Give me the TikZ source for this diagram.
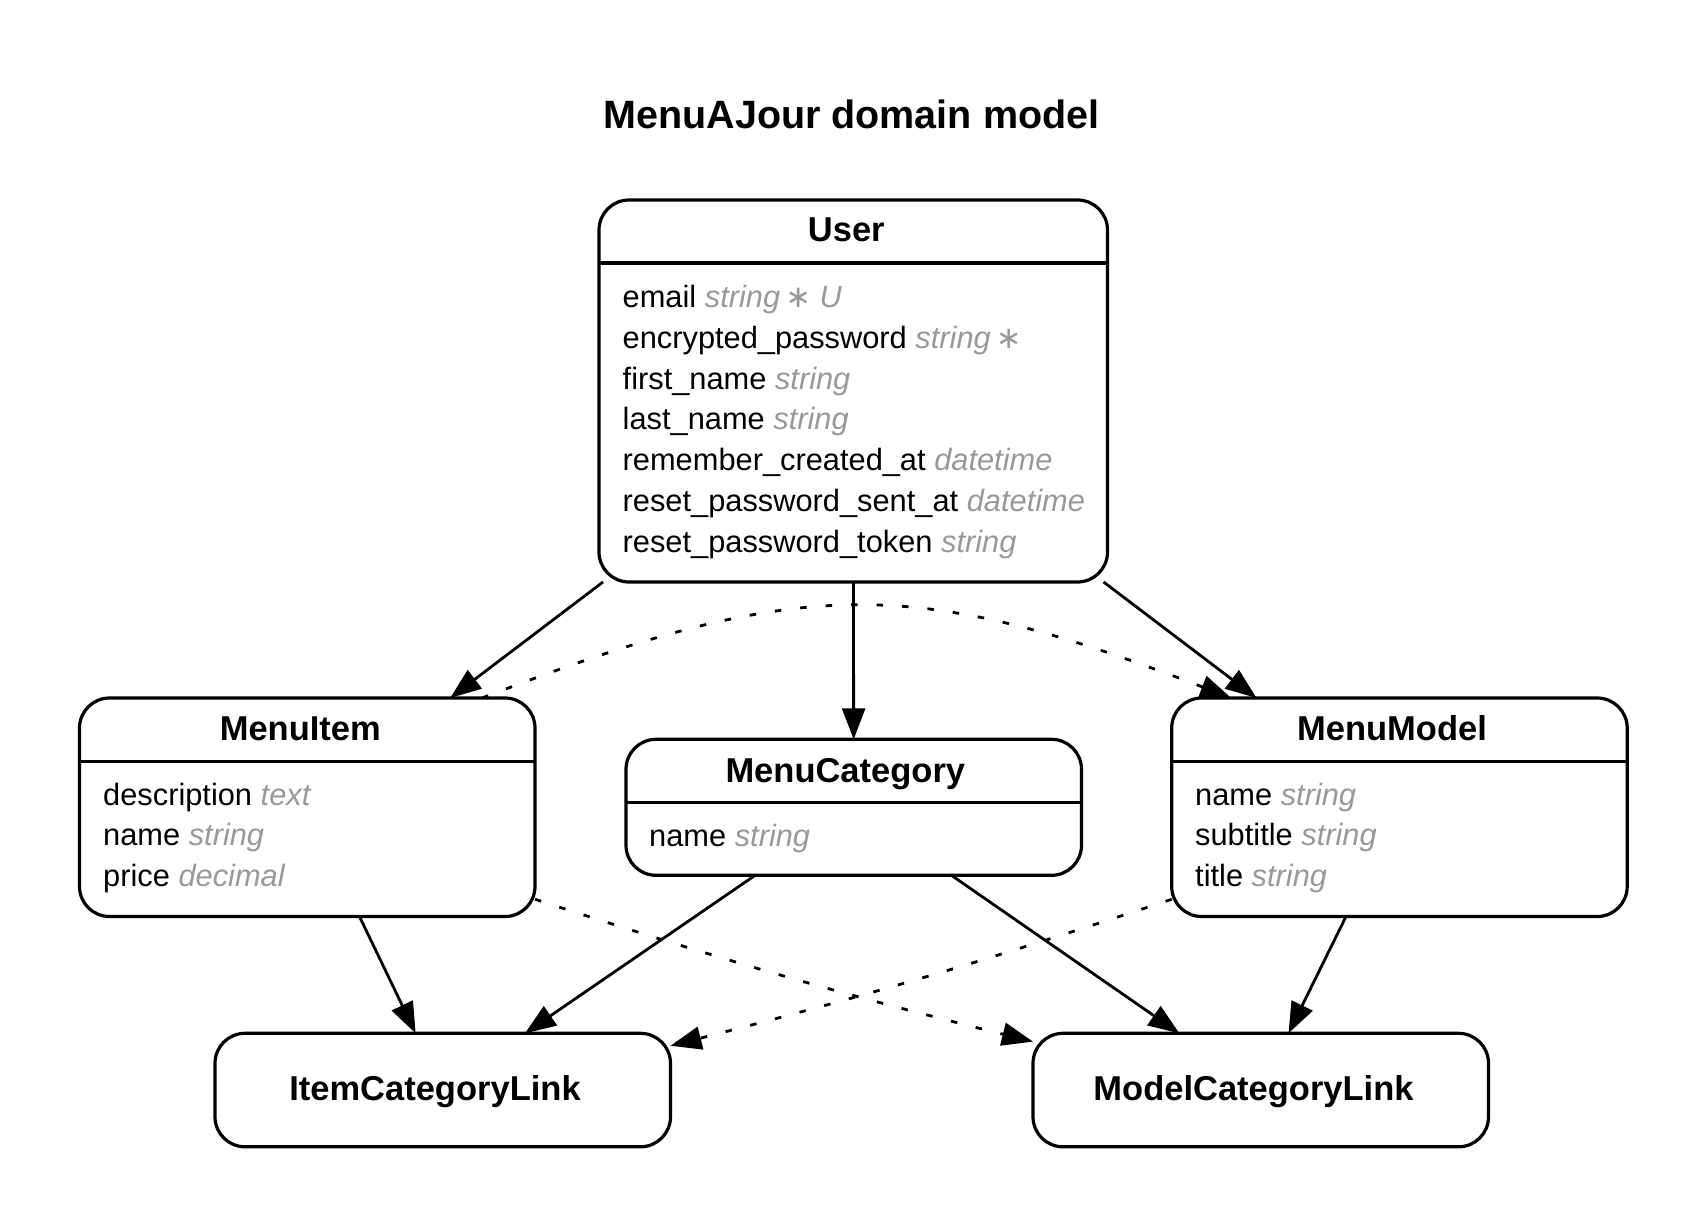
\documentclass[tikz,border=0pt]{standalone}
\usepackage{fontspec}
\setmainfont{Liberation Sans}
\newfontfamily\djv{DejaVu Sans}
\usetikzlibrary{arrows.meta,calc}
\definecolor{typegray}{RGB}{153,153,153}
\newcommand{\ty}[1]{{\color{typegray}\itshape #1}}
\newcommand{\opstar}{{\djv ∗}}
\begin{document}
\begin{tikzpicture}[x=1pt,y=-1pt,
  box/.style={draw, line width=3.2pt, rounded corners=30pt, inner sep=0pt, outer sep=0pt, anchor=north west, minimum width=455.5pt},
  ttl/.style={anchor=base, font=\bfseries\fontsize{34.5}{36}\selectfont, inner sep=0pt},
  attr/.style={anchor=base west, font=\fontsize{30.8}{32}\selectfont, inner sep=0pt},
  sep/.style={line width=3.2pt},
  rel/.style={line width=2.8pt, -{Triangle[length=31pt,width=23pt]}},
  drel/.style={rel, dash pattern=on 6.5pt off 19pt},
]
\useasboundingbox (0,0) rectangle (1708,1230);
\fill[white] (0,0) rectangle (1708,1230);

\node[font=\bfseries\fontsize{39.5}{42}\selectfont, anchor=base, inner sep=0pt] (title) at (851.4,128.3) {MenuAJour domain model};

% boxes
\node[box, minimum width=508.5pt, minimum height=382pt] (user) at (599,200) {};
\node[box, minimum height=218.5pt] (mi) at (79.5,698) {};
\node[box, minimum height=136pt] (mc) at (626,739.3) {};
\node[box, minimum height=218.5pt] (mm) at (1171.7,698) {};
\node[box, minimum height=113.5pt] (icl) at (215,1033.3) {};
\node[box, minimum height=113.5pt] (mcl) at (1033,1033.3) {};

% header separators
\draw[sep] ($(user.north west)+(0,63)$) -- ($(user.north east)+(0,63)$);
\draw[sep] ($(mi.north west)+(0,63.7)$) -- ($(mi.north east)+(0,63.7)$);
\draw[sep] ($(mc.north west)+(0,63.4)$) -- ($(mc.north east)+(0,63.4)$);
\draw[sep] ($(mm.north west)+(0,63.7)$) -- ($(mm.north east)+(0,63.7)$);

% titles
\node[ttl] (userT) at (846.3,241.5) {User};
\node[ttl] (miT) at (300.3,740.5) {MenuItem};
\node[ttl] (mcT) at (845.3,782) {MenuCategory};
\node[ttl] (mmT) at (1392,740.5) {MenuModel};
\node[ttl] (iclT) at (435,1100) {ItemCategoryLink};
\node[ttl] (mclT) at (1253.5,1100) {ModelCategoryLink};

% User attributes
\node[attr] (u1) at (622.5,307.5) {email \ty{string\,\opstar\ U}};
\node[attr] (u2) at (622.5,348.3) {encrypted\_password \ty{string\,\opstar}};
\node[attr] (u3) at (622.5,389.1) {first\_name \ty{string}};
\node[attr] (u4) at (622.5,429.9) {last\_name \ty{string}};
\node[attr] (u5) at (622.5,470.7) {remember\_created\_at \ty{datetime}};
\node[attr] (u6) at (622.5,511.5) {reset\_password\_sent\_at \ty{datetime}};
\node[attr] (u7) at (622.5,552.3) {reset\_password\_token \ty{string}};

% MenuItem attributes
\node[attr] (mi1) at (103,805.5) {description \ty{text}};
\node[attr] (mi2) at (103,845.8) {name \ty{string}};
\node[attr] (mi3) at (103,886) {price \ty{decimal}};

% MenuCategory attributes
\node[attr] (mc1) at (649,846.7) {name \ty{string}};

% MenuModel attributes
\node[attr] (mm1) at (1195,805.5) {name \ty{string}};
\node[attr] (mm2) at (1195,845.8) {subtitle \ty{string}};
\node[attr] (mm3) at (1195,886) {title \ty{string}};

% relations
\draw[rel] (user) -- (mi);
\draw[rel] (user) -- (mc);
\draw[rel] (user) -- (mm);
\draw[drel] (mi.32.3) to[bend left=21, looseness=1.17] (mm.147);
\draw[rel] (mi) -- (icl);
\draw[rel] (mc) -- (icl);
\draw[rel] (mc) -- (mcl);
\draw[rel] (mm) -- (mcl);
\draw[drel] (mi.-22.5) to[bend right=2] (mcl.168.2);
\draw[drel] (mm.202.5) to[bend left=2] (icl.11.8);
\end{tikzpicture}
\end{document}
